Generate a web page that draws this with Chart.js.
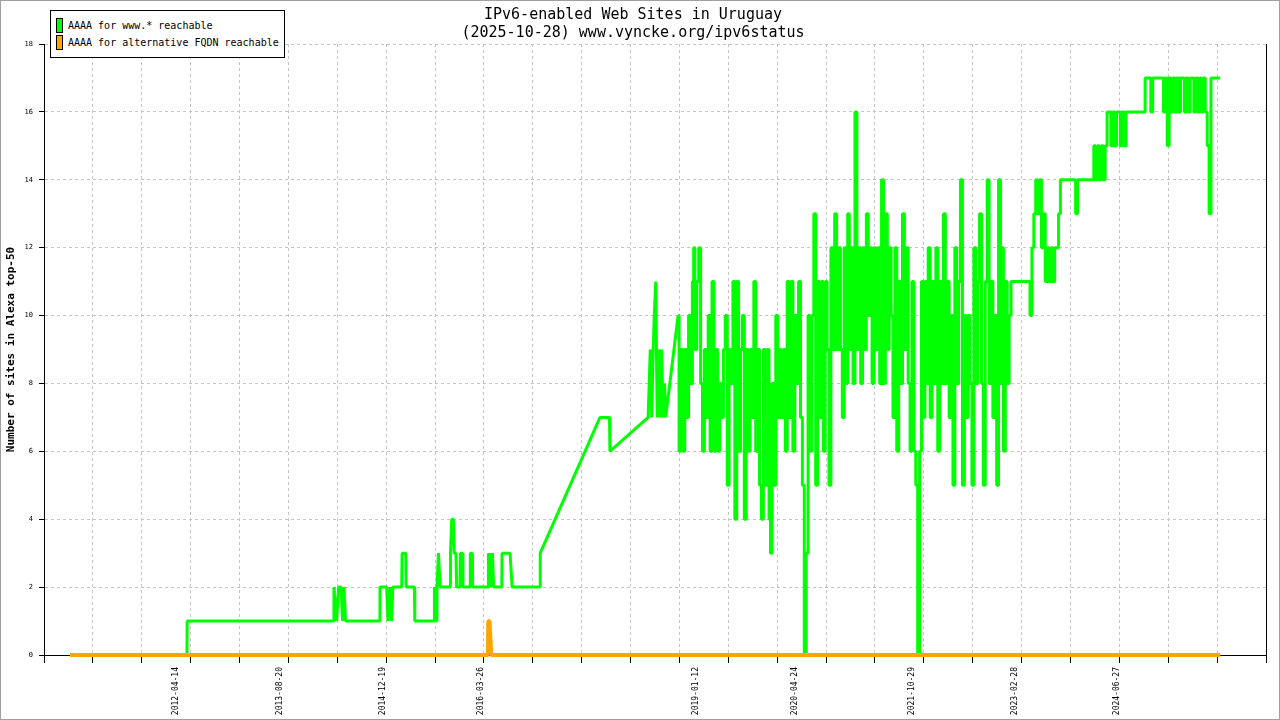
<!DOCTYPE html>
<html>
<head>
<meta charset="utf-8">
<title>IPv6-enabled Web Sites in Uruguay</title>
<script src="https://cdn.jsdelivr.net/npm/chart.js@4.4.1/dist/chart.umd.min.js"></script>
<style>
  html, body { margin: 0; padding: 0; background: #fff; overflow: hidden; }
  #wrap { position: relative; width: 1280px; height: 720px; }
  #marco { position: absolute; left: 0; top: 0; width: 1280px; height: 720px; box-sizing: border-box; border: 1px solid #a0a0a0; pointer-events: none; }
  #leyenda { position: absolute; left: 50px; top: 10px; width: 235px; height: 48px; box-sizing: border-box; border: 1px solid #000; background: #fff; padding-top: 6px; font: 10px "DejaVu Sans Mono", monospace; color: #000; }
  .item { display: flex; align-items: center; height: 17px; white-space: pre; }
  .muestra { width: 7px; height: 15px; box-sizing: border-box; border: 1px solid #000; margin: 0 5px 0 5px; }
</style>
</head>
<body>
<div id="wrap">
  <canvas id="myChart" width="1280" height="720"></canvas>
  <div id="leyenda"></div>
  <div id="marco"></div>
</div>
<script>
// etiquetas del eje x (fechas)
const xLabelDates = ['2012-04-14', '2013-08-20', '2014-12-19', '2016-03-26', '2019-01-12',
                     '2020-04-24', '2021-10-29', '2023-02-28', '2024-06-27'];
const axisStart = '2010-07-29';
const axisEnd = '2026-06-02';
const gridDivisions = 25;

// AAAA for www.* - parte inicial, fechas sueltas
const earlyDates = ['2010-11-29', '2012-06-05', '2012-06-06', '2014-05-01', '2014-05-02', '2014-05-15',
  '2014-05-24', '2014-06-05', '2014-06-12', '2014-06-19', '2014-06-26', '2014-12-02', '2014-12-06',
  '2015-01-07', '2015-01-13', '2015-01-23', '2015-01-30', '2015-02-05', '2015-03-19', '2015-03-21',
  '2015-04-07', '2015-04-09', '2015-05-18', '2015-05-20', '2015-08-19', '2015-08-21', '2015-08-29',
  '2015-09-02', '2015-09-09', '2015-09-17', '2015-11-03', '2015-11-05', '2015-11-11', '2015-11-19',
  '2015-11-22', '2015-12-01', '2015-12-04', '2015-12-20', '2015-12-22', '2015-12-31', '2016-01-03',
  '2016-02-06', '2016-02-07', '2016-02-15', '2016-02-17', '2016-05-01', '2016-05-03', '2016-05-08',
  '2016-05-13', '2016-05-17', '2016-05-22', '2016-05-27', '2016-07-05', '2016-07-06', '2016-08-13',
  '2016-08-23', '2017-01-02', '2017-01-03', '2017-10-13', '2017-11-27', '2017-11-29', '2018-05-29',
  '2018-06-08', '2018-06-15', '2018-06-22', '2018-06-27', '2018-07-04', '2018-07-11', '2018-07-18',
  '2018-07-25', '2018-08-01', '2018-08-08', '2018-08-15', '2018-08-20'];
const earlyValues = [0, 0, 1, 1, 2, 1,
  2, 2, 1, 2, 1, 1, 2,
  2, 1, 2, 1, 2, 2, 3,
  3, 2, 2, 1, 1, 2, 1,
  2, 3, 2, 2, 3, 4, 4,
  3, 3, 2, 2, 3, 3, 2,
  2, 3, 3, 2, 2, 3, 2,
  3, 2, 3, 2, 2, 3, 3,
  2, 2, 3, 7, 7, 6, 7,
  9, 7, 9, 10, 11, 7, 9,
  7, 9, 7, 8, 7];

// parte densa: una lectura cada 9 dias desde cada fecha de inicio
const stepDays = 9;
const denseStarts = ['2018-10-18', '2019-01-01', '2020-01-01', '2021-01-01',
                     '2022-01-01', '2023-01-01', '2024-01-01', '2025-01-01'];
const www2018 = [10, 6, 9, 6, 9, 7, 10, 8, 11];
const www2019 = [12, 9, 11, 12, 8, 6, 9, 7, 10, 6,
                 11, 6, 9, 6, 8, 7, 9, 10, 5, 9,
                 8, 11, 4, 11, 6, 9, 10, 4, 9, 6,
                 9, 7, 11, 6, 9, 5, 4, 9, 5, 9,
                 4];
const www2020 = [3, 8, 5, 10, 7, 9, 7, 9, 6, 11,
                 7, 11, 6, 10, 8, 11, 7, 5, 0, 3,
                 10, 6, 10, 13, 5, 11, 7, 11, 6, 11,
                 9, 5, 12, 9, 13, 9, 12, 9, 7, 12,
                 8];
const www2021 = [13, 9, 12, 8, 16, 9, 12, 8, 12, 9,
                 13, 10, 12, 8, 12, 9, 12, 8, 14, 8,
                 13, 9, 12, 10, 7, 12, 6, 11, 8, 13,
                 9, 12, 8, 6, 11, 6, 5, 0, 6, 11,
                 7];
const www2022 = [11, 8, 12, 7, 11, 8, 12, 6, 11, 8,
                 13, 8, 11, 7, 10, 5, 12, 8, 11, 14,
                 5, 10, 7, 10, 8, 5, 12, 8, 11, 13,
                 8, 5, 11, 14, 8, 11, 7, 10, 5, 14,
                 8];
const www2023 = [12, 6, 11, 8, 10, 11, 11, 11, 11, 11,
                 11, 11, 11, 11, 11, 10, 12, 13, 14, 13,
                 14, 12, 13, 11, 12, 11, 12, 11, 12, 12,
                 13, 14, 14, 14, 14, 14, 14, 14, 14, 13,
                 14];
const www2024 = [14, 14, 14, 14, 14, 14, 14, 14, 15, 14,
                 15, 14, 15, 14, 15, 16, 16, 15, 16, 15,
                 16, 16, 15, 16, 15, 16, 16, 16, 16, 16,
                 16, 16, 16, 16, 16, 17, 17, 17, 16, 17,
                 17];
const www2025 = [17, 17, 17, 17, 16, 17, 15, 17, 16, 17,
                 16, 17, 16, 17, 17, 16, 17, 16, 17, 17,
                 16, 17, 16, 17, 16, 17, 16, 15, 13, 17,
                 17, 17, 17, 17];
const wwwDense = [www2018, www2019, www2020, www2021, www2022, www2023, www2024, www2025];
const endDates = ['2025-10-28'];
const endValues = [17];

// AAAA for alternative FQDN
const fqdnDates = ['2010-11-29', '2016-04-30', '2016-05-02', '2016-05-08', '2016-05-16', '2025-10-28'];
const fqdnValues = [0, 0, 1, 1, 0, 0];

const fuente = '"DejaVu Sans Mono", monospace';
const verdeColor = '#00ff00';
const naranjaColor = '#ffa500';

//dias desde 2010-01-01
function dia(fecha) {
    const p = fecha.split('-').map(Number);
    return (Date.UTC(p[0], p[1] - 1, p[2]) - Date.UTC(2010, 0, 1)) / 86400000;
}

const xMin = dia(axisStart);
const xMax = dia(axisEnd);
let gridTicks = [];
for (let k = 0; k <= gridDivisions; k++) {
    gridTicks.push(xMin + k * (xMax - xMin) / gridDivisions);
}

// tramo inicial (lineas rectas) y tramo denso (escalones, como las lecturas diarias)
let verdeInicio = earlyDates.map((f, i) => ({ x: dia(f), y: earlyValues[i] }));
let verdeDenso = [];
denseStarts.forEach((f, k) => {
    wwwDense[k].forEach((v, i) => verdeDenso.push({ x: dia(f) + i * stepDays, y: v }));
});
endDates.forEach((f, i) => verdeDenso.push({ x: dia(f), y: endValues[i] }));
verdeInicio.push(verdeDenso[0]);

const naranja = fqdnDates.map((f, i) => ({ x: dia(f), y: fqdnValues[i] }));

Chart.defaults.font.family = fuente;
Chart.defaults.color = '#000';

function serie(label, data, color, width, order, stepped) {
    return {
        label: label,
        data: data,
        borderColor: color,
        backgroundColor: color,
        borderWidth: width,
        borderJoinStyle: 'bevel',
        pointRadius: 0,
        tension: 0,
        stepped: stepped,
        fill: false,
        clip: false,
        order: order
    };
}

const ctx = document.querySelector('#myChart').getContext('2d');
const chart = new Chart(ctx, {
    type: 'line',
    data: {
        datasets: [
            serie('AAAA for www.* reachable', verdeInicio, verdeColor, 3, 2, false),
            serie('AAAA for www.* reachable', verdeDenso, verdeColor, 3, 2, 'middle'),
            serie('AAAA for alternative FQDN reachable', naranja, naranjaColor, 4, 1, false)
        ]
    },
    options: {
        responsive: false,
        animation: false,
        devicePixelRatio: 1,
        layout: { padding: { left: 0, right: 14, top: 0, bottom: 0 } },
        plugins: {
            legend: { display: false },
            tooltip: { enabled: false },
            title: {
                display: true,
                text: ['IPv6-enabled Web Sites in Uruguay', '(2025-10-28) www.vyncke.org/ipv6status'],
                font: { family: fuente, size: 15, weight: 'normal', lineHeight: 1.2 },
                color: '#000',
                padding: { top: 6, bottom: 2 }
            }
        },
        scales: {
            x: {
                type: 'linear',
                position: 'bottom',
                min: xMin,
                max: xMax,
                weight: 0,
                afterBuildTicks: (s) => { s.ticks = gridTicks.map(v => ({ value: v })); },
                afterFit: (s) => { s.height = 8; },
                ticks: { display: false },
                grid: { color: '#c4c4c4', lineWidth: 1, drawTicks: true, tickLength: 8, tickColor: '#000', tickWidth: 1 },
                border: { color: '#000', width: 1, dash: [3, 3] }
            },
            xLabels: {
                type: 'linear',
                position: 'bottom',
                min: xMin,
                max: xMax,
                weight: 1,
                afterBuildTicks: (s) => { s.ticks = xLabelDates.map(f => ({ value: dia(f) })); },
                afterFit: (s) => { s.height = 57; },
                grid: { display: false, drawTicks: false },
                border: { display: false },
                ticks: {
                    autoSkip: false,
                    minRotation: 90,
                    maxRotation: 90,
                    padding: 4,
                    font: { family: fuente, size: 8 },
                    color: '#000',
                    callback: (v, i) => xLabelDates[i]
                }
            },
            y: {
                type: 'linear',
                position: 'left',
                min: 0,
                max: 18,
                afterFit: (s) => { s.width = 44; },
                ticks: { stepSize: 2, font: { family: fuente, size: 7 }, color: '#000', padding: 6 },
                grid: { color: '#c4c4c4', lineWidth: 1, tickLength: 5, tickColor: '#000' },
                border: { color: '#000', width: 1, dash: [3, 3] },
                title: {
                    display: true,
                    text: 'Number of sites in Alexa top-50',
                    font: { family: fuente, size: 11, weight: 'bold' },
                    color: '#000',
                    padding: { top: 5, bottom: 0 }
                }
            },
            yR: {
                type: 'linear',
                position: 'right',
                min: 0,
                max: 18,
                afterFit: (s) => { s.width = 0; },
                ticks: { display: false },
                grid: { drawOnChartArea: false, drawTicks: false },
                border: { color: '#000', width: 1 }
            }
        }
    }
});

//leyenda con recuadro, igual que el original (una fila por serie)
const leyenda = document.querySelector('#leyenda');
let vistos = [];
chart.data.datasets.forEach((ds) => {
    if (vistos.includes(ds.label)) return;
    vistos.push(ds.label);
    const fila = document.createElement('div');
    fila.className = 'item';
    const m = document.createElement('span');
    m.className = 'muestra';
    m.style.background = ds.borderColor;
    const t = document.createElement('span');
    t.textContent = ds.label;
    fila.appendChild(m);
    fila.appendChild(t);
    leyenda.appendChild(fila);
});
</script>
</body>
</html>
